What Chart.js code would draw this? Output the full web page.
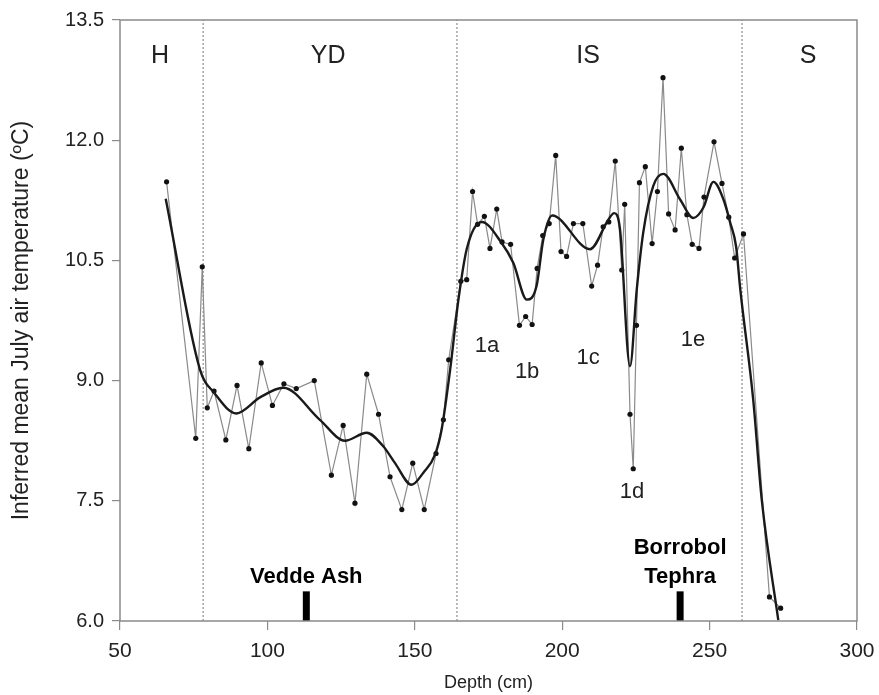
<!DOCTYPE html>
<html>
<head>
<meta charset="utf-8">
<script src="https://cdn.jsdelivr.net/npm/chart.js@4.4.0/dist/chart.umd.min.js"></script>
<style>
  html, body { margin: 0; background: #fff; }
  #wrap { width: 879px; height: 695px; }
</style>
</head>
<body>
<div id="wrap"><canvas id="tempChart"></canvas></div>
<script>
// Chironomid-inferred July temperatures against core depth
const depths = [65.8, 75.7, 77.9, 79.6, 81.9, 85.9, 89.7, 93.7, 97.9, 101.7, 105.6, 109.8,
    115.9, 121.7, 125.7, 129.7, 133.7, 137.7, 141.6, 145.6, 149.3, 153.2, 157.2, 159.7,
    161.5, 165.6, 167.6, 169.6, 171.3, 173.6, 175.5, 177.8, 179.6, 182.5, 185.5, 187.6,
    189.8, 191.5, 193.4, 195.6, 197.8, 199.6, 201.5, 203.8, 207.0, 210.0, 212.0, 213.9,
    215.8, 218.0, 220.2, 221.2, 223.0, 224.1, 225.2, 226.2, 228.2, 230.5, 232.3, 234.2,
    236.1, 238.3, 240.4, 242.3, 244.1, 246.4, 248.1, 251.5, 254.2, 256.5, 258.5, 261.5,
    270.3, 274.1];
const temps = [11.48, 8.28, 10.42, 8.66, 8.87, 8.26, 8.94, 8.15, 9.22, 8.69, 8.96, 8.90,
    9.00, 7.82, 8.44, 7.47, 9.08, 8.58, 7.80, 7.39, 7.97, 7.39, 8.09, 8.51,
    9.26, 10.24, 10.26, 11.36, 10.95, 11.05, 10.65, 11.14, 10.73, 10.70, 9.69, 9.80,
    9.70, 10.40, 10.81, 10.96, 11.81, 10.61, 10.55, 10.96, 10.96, 10.18, 10.44, 10.92,
    10.98, 11.74, 10.38, 11.20, 8.58, 7.90, 9.69, 11.47, 11.67, 10.71, 11.36, 12.78,
    11.08, 10.88, 11.90, 11.07, 10.70, 10.65, 11.29, 11.98, 11.46, 11.04, 10.53, 10.83,
    6.30, 6.16];

// smoothed trend
const smoothDepths = [65.5, 77.1, 81.9, 89.5, 97.5, 105.4, 117.8, 126.3, 133.7, 139.3,
    143.3, 148.9, 152.9, 156.9, 159.1, 162.0, 164.8, 167.6, 172.7, 179.4, 183.4, 188.0,
    191.3, 193.6, 196.6, 209.4, 215.7, 217.6, 219.6, 223.0, 225.3, 227.5, 230.9, 234.3,
    240.0, 244.5, 247.9, 251.3, 254.7, 257.0, 259.0, 260.4, 264.8, 267.7, 273.3];
const smoothTemps = [11.27, 9.14, 8.85, 8.59, 8.79, 8.91, 8.51, 8.25, 8.35, 8.18,
    7.97, 7.70, 7.85, 8.08, 8.39, 9.14, 10.01, 10.64, 10.98, 10.72, 10.47, 10.01,
    10.18, 10.76, 11.06, 10.64, 11.01, 11.09, 10.89, 9.18, 10.14, 10.85, 11.43, 11.58,
    11.26, 11.03, 11.16, 11.48, 11.26, 10.97, 10.67, 10.14, 8.76, 7.51, 6.01];

const yTicks = [6.0, 7.5, 9.0, 10.5, 12.0, 13.5];
const xTicks = [50, 100, 150, 200, 250, 300];

// zone boundaries and names
const zoneBounds = [78.2, 164.3, 261.0];
const zoneNames = ['H', 'YD', 'IS', 'S'];
const zoneNameDepths = [63.6, 120.6, 208.8, 283.4];
const zoneNameTemp = 13.05;

const subzoneNames = ['1a', '1b', '1c', '1d', '1e'];
const subzoneDepths = [174.5, 188.1, 208.8, 223.7, 244.4];
const subzoneTemps = [9.43, 9.11, 9.28, 7.61, 9.51];

// tephra layers
const tephraNames = [['Vedde Ash'], ['Borrobol', 'Tephra']];
const tephraDepths = [113.2, 240.0];
const tephraTop = 6.37;
const tephraLabelTemp = 6.55;

const FONT = '"Liberation Sans", Arial, sans-serif';
const INK = '#222';

const vlines = zoneBounds.map(d => ({
    data: [{ x: d, y: yTicks[0] }, { x: d, y: yTicks[yTicks.length - 1] }],
    borderColor: '#777',
    borderWidth: 1,
    borderDash: [2, 2],
    pointRadius: 0,
    order: 5
}));

const tephraBars = tephraDepths.map(d => ({
    data: [{ x: d, y: yTicks[0] }, { x: d, y: tephraTop }],
    borderColor: '#000',
    borderWidth: 7,
    borderCapStyle: 'butt',
    pointRadius: 0,
    order: 4
}));

const textLabels = {
    id: 'textLabels',
    afterDatasetsDraw(chart) {
        const { ctx, scales: { x, y } } = chart;
        ctx.save();
        ctx.fillStyle = INK;
        ctx.textAlign = 'center';
        ctx.textBaseline = 'middle';

        ctx.font = '25px ' + FONT;
        zoneNames.forEach((n, i) => {
            ctx.fillText(n, x.getPixelForValue(zoneNameDepths[i]), y.getPixelForValue(zoneNameTemp));
        });

        ctx.font = '22px ' + FONT;
        subzoneNames.forEach((n, i) => {
            ctx.fillText(n, x.getPixelForValue(subzoneDepths[i]), y.getPixelForValue(subzoneTemps[i]));
        });

        ctx.font = 'bold 22px ' + FONT;
        ctx.fillStyle = '#000';
        tephraNames.forEach((lines, i) => {
            const px = x.getPixelForValue(tephraDepths[i]);
            const base = y.getPixelForValue(tephraLabelTemp);
            lines.forEach((t, k) => {
                ctx.fillText(t, px, base - (lines.length - 1 - k) * 29);
            });
        });

        // frame round the plot
        const a = chart.chartArea;
        ctx.strokeStyle = '#8a8a8a';
        ctx.lineWidth = 1.5;
        ctx.strokeRect(a.left, a.top, a.right - a.left, a.bottom - a.top);
        ctx.restore();
    }
};

new Chart(document.getElementById('tempChart'), {
    type: 'line',
    data: {
        datasets: [
            {
                data: smoothDepths.map((d, i) => ({ x: d, y: smoothTemps[i] })),
                borderColor: '#1a1a1a',
                borderWidth: 2.4,
                pointRadius: 0,
                cubicInterpolationMode: 'monotone',
                order: 1
            },
            {
                data: depths.map((d, i) => ({ x: d, y: temps[i] })),
                borderColor: '#8a8a8a',
                borderWidth: 1.2,
                pointRadius: 2.6,
                pointBackgroundColor: '#111',
                pointBorderWidth: 0,
                tension: 0,
                order: 2
            },
            ...tephraBars,
            ...vlines
        ]
    },
    options: {
        responsive: true,
        maintainAspectRatio: false,
        animation: false,
        layout: { padding: { top: 20, right: 22, left: 0, bottom: 0 } },
        plugins: {
            legend: { display: false },
            tooltip: { enabled: false }
        },
        scales: {
            x: {
                type: 'linear',
                min: 50,
                max: 300,
                afterBuildTicks: s => { s.ticks = xTicks.map(v => ({ value: v })); },
                afterFit: s => { s.height = 74; s.paddingRight = 0; s.paddingLeft = 0; },
                border: { display: false },
                grid: { drawOnChartArea: false, drawTicks: true, tickLength: 9, color: '#8a8a8a', lineWidth: 1.2 },
                ticks: { color: INK, font: { family: FONT, size: 21 }, padding: 9, maxRotation: 0 },
                title: { display: true, text: 'Depth (cm)', color: INK, font: { family: FONT, size: 18 }, padding: { top: 0, bottom: 1 } }
            },
            y: {
                type: 'linear',
                min: 6,
                max: 13.5,
                afterBuildTicks: s => { s.ticks = yTicks.map(v => ({ value: v })); },
                afterFit: s => { s.width = 120; },
                border: { display: false },
                grid: { drawOnChartArea: false, drawTicks: true, tickLength: 8, color: '#8a8a8a', lineWidth: 1.2 },
                ticks: { color: INK, font: { family: FONT, size: 20 }, padding: 8, callback: v => v.toFixed(1) },
                title: { display: true, text: 'Inferred mean July air temperature (ºC)', color: INK, font: { family: FONT, size: 23 }, padding: { top: 8, bottom: 0 } }
            }
        }
    },
    plugins: [textLabels]
});
</script>
</body>
</html>
